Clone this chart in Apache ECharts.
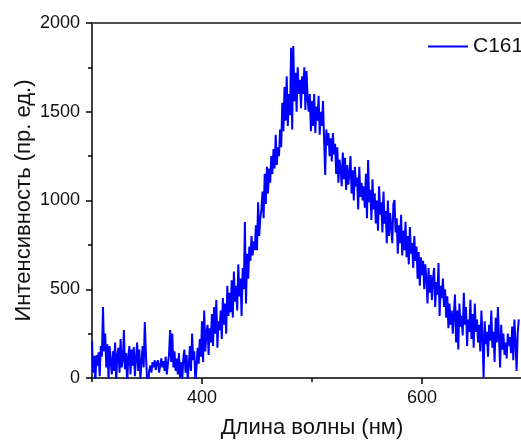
<!DOCTYPE html>
<html>
<head>
<meta charset="utf-8">
<script src="https://cdn.jsdelivr.net/npm/echarts@6/dist/echarts.min.js"></script>
<style>
  html, body { margin: 0; padding: 0; background: #fff; }
  #chart { width: 521px; height: 443px; }
</style>
</head>
<body>
<div id="chart"></div>
<script>
// Emission spectrum of sample C161, one reading per nanometre starting at 300 nm
const seriesName = 'C161';
const startWavelength = 300;
const stepNm = 1;

const intensity300s = [
  210, 30, 125, -30, 130, 70, 145, 10, 180, 120,
  400, 150, 250, 60, 190, -10, 180, 90, 20, 150,
  40, 200, -20, 130, 170, 30, 220, 60, 100, 270,
  50, 140, -30, 120, 180, 20, 160, 70, 175, 10,
  110, 200, 40, 160, -10, 90, 180, 60, 315, 140,
  0, -40, 40, 70, 30, 90, 60, 100, 45, 85,
  100, 30, 70, 110, 60, 95, 40, 120, 20, 80,
  130, 270, 90, 250, 60, 150, 40, 110, 20, 140,
  0, 90, -20, 110, 160, 30, 130, -10, 70, 180,
  40, 250, 100, 150, -30, 60, 170, 80, 220, 120
];
const intensity400s = [
  320, 90, 380, 150, 250, 300, 130, 280, 200, 360,
  180, 400, 250, 440, 170, 320, 270, 380, 220, 450,
  300, 420, 250, 520, 350, 480, 370, 550, 340, 600,
  430, 520, 380, 640, 460, 560, 350, 620, 500, 879,
  420, 700, 560, 740, 660, 800, 690, 770, 720, 860,
  720, 990, 800, 900, 950, 1050, 900, 1150, 980, 1190,
  1040, 1180, 1100, 1250, 1150, 1290, 1180, 1370, 1200, 1300,
  1250, 1400, 1300, 1550, 1390, 1640, 1450, 1700, 1420, 1600,
  1480, 1860, 1400, 1870, 1560, 1720, 1500, 1750, 1600, 1680,
  1520, 1700, 1600, 1750, 1510, 1730, 1580, 1500, 1600, 1390
];
const intensity500s = [
  1560, 1420, 1600, 1380, 1530, 1450, 1590, 1370, 1500, 1420,
  1560, 1340, 1144, 1400, 1310, 1380, 1250, 1350, 1220, 1380,
  1260, 1320, 1150, 1300, 1100, 1230, 1180, 1080, 1270, 1120,
  1240, 1060, 1200, 1090, 1150, 1250, 1040, 1170, 1000, 1190,
  1080, 1130, 950, 1190, 1020, 1100, 1000, 1080, 960, 1150,
  900, 1228, 990, 1060, 890, 1120, 950, 1040, 870, 1000,
  830, 1080, 920, 990, 820, 1050, 870, 940, 760, 1000,
  800, 930, 850, 760, 980, 1003, 820, 900, 700, 860,
  760, 920, 690, 830, 720, 880, 680, 800, 640, 850,
  700, 760, 620, 800, 660, 740, 560, 710, 520, 680
];
const intensity600s = [
  580, 660, 500, 640, 560, 420, 620, 480, 580, 440,
  560, 620, 400, 540, 470, 648, 350, 520, 450, 560,
  400, 500, 340, 460, 280, 420, 300, 380, 250, 360,
  470, 200, 380, 160, 420, 290, 350, 240, 480, 300,
  400, 180, 330, 260, 440, 220, 360, 170, 420, 260,
  330, 200, 300, 150, 380, 230, 0, 320, 190, 260,
  120, 300, 210, 380, 170, 260, 90, 340, 200, 400,
  230, 60, 300, 160, 250, 130, 200, 110, 250, 180,
  230, 140, 290, 100, 330, 200, 40, 250, 330
];

const xLabelValues = [400, 600];
const xMinorValues = [300, 500];
const yTicks = [0, 500, 1000, 1500, 2000];

const intensity = [].concat(intensity300s, intensity400s, intensity500s, intensity600s);
const points = intensity.map((v, i) => [startWavelength + i * stepNm, v]);

const FONT = '"Liberation Sans", Arial, sans-serif';
const chart = echarts.init(document.getElementById('chart'), null, { renderer: 'canvas' });

chart.setOption({
  animation: false,
  backgroundColor: '#ffffff',
  grid: { left: 92, top: 23, right: -11, bottom: 65, containLabel: false, outerBoundsMode: 'none' },
  legend: {
    left: 423, top: 31,
    itemWidth: 40, itemHeight: 14, itemGap: 5,
    textStyle: { fontFamily: FONT, fontSize: 21, color: '#111' },
    data: [{ name: seriesName, icon: 'path://M0,6 L40,6 L40,8 L0,8 Z' }]
  },
  xAxis: [
    {
      type: 'value', min: 300, max: 700, interval: 100,
      position: 'bottom',
      name: 'Длина волны (нм)', nameLocation: 'middle', nameGap: 39, nameMoveOverlap: false,
      nameTextStyle: { fontFamily: FONT, fontSize: 22, color: '#111' },
      axisLine: { show: true, onZero: false, lineStyle: { color: '#000', width: 1.5 } },
      axisTick: { show: true, inside: false, length: 6, customValues: xLabelValues, lineStyle: { color: '#000', width: 1.5 } },
      axisLabel: { customValues: xLabelValues, margin: 11, fontFamily: FONT, fontSize: 18, color: '#111' },
      splitLine: { show: false }
    },
    {
      type: 'value', min: 300, max: 700, interval: 100,
      position: 'bottom', gridIndex: 0,
      axisLine: { show: false },
      axisTick: { show: true, length: 4, customValues: xMinorValues, lineStyle: { color: '#000', width: 1.5 } },
      axisLabel: { show: false },
      splitLine: { show: false }
    },
    {
      type: 'value', min: 300, max: 700, interval: 100,
      position: 'top',
      axisLine: { show: true, lineStyle: { color: '#505050', width: 2 } },
      axisTick: { show: false },
      axisLabel: { show: false },
      splitLine: { show: false }
    }
  ],
  yAxis: {
    type: 'value', min: yTicks[0], max: yTicks[yTicks.length - 1], interval: 500,
    name: 'Интенсивность (пр. ед.)', nameLocation: 'middle', nameGap: 57, nameMoveOverlap: false,
    nameTextStyle: { fontFamily: FONT, fontSize: 22, color: '#111' },
    axisLine: { show: true, lineStyle: { color: '#000', width: 1.5 } },
    axisTick: { show: true, inside: false, length: 6, lineStyle: { color: '#000', width: 1.5 } },
    minorTick: { show: true, splitNumber: 2, length: 4, lineStyle: { color: '#000', width: 1.5 } },
    axisLabel: { margin: 12, fontFamily: FONT, fontSize: 18, color: '#111', formatter: (v) => String(v) },
    splitLine: { show: false },
    minorSplitLine: { show: false }
  },
  series: [{
    name: seriesName,
    type: 'line',
    xAxisIndex: 0,
    data: points,
    symbol: 'none',
    clip: true,
    lineStyle: { color: '#0000ff', width: 2 },
    itemStyle: { color: '#0000ff' }
  }]
});
</script>
</body>
</html>
